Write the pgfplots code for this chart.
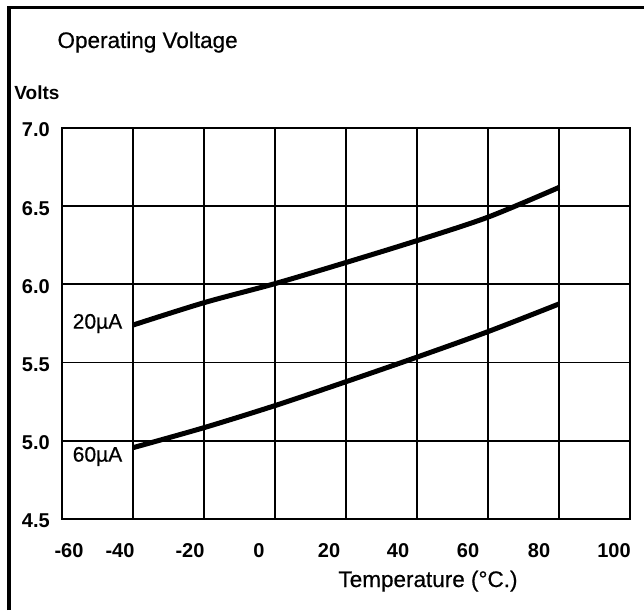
\documentclass[border=0pt]{standalone}
\usepackage{pgfplots}
\pgfplotsset{compat=1.18}
\usepackage{fontspec}
\setmainfont{Liberation Sans}
\newfontfamily\medfont{Liberation Sans}[FakeBold=0.6]

\begin{document}
\begin{tikzpicture}
  \useasboundingbox (0,0) rectangle (644pt,610pt);
  % outer frame (top and left only, as in the scan)
  \draw[line width=3.5pt] (7pt,602.5pt) -- (644pt,602.5pt);
  \draw[line width=4pt] (9pt,0pt) -- (9pt,604pt);

  \node[anchor=base west, font=\medfont\fontsize{22.5}{22.5}\selectfont] at (54pt,562pt) {Operating Voltage};
  \node[font=\bfseries\fontsize{19}{19}\selectfont] at (37pt,517pt) {Volts};
  \node[anchor=base, font=\medfont\fontsize{22.5}{22.5}\selectfont] at (428pt,23pt) {Temperature (\textdegree C.)};

  \begin{axis}[
    at={(62pt,91pt)}, anchor=south west,
    scale only axis,
    width=568pt, height=391pt,
    xmin=-60, xmax=100, ymin=4.5, ymax=7.0,
    xtick={-60,-40,...,100},
    ytick={4.5,5.0,...,7.0},
    xticklabels={\kern14pt -60, -40\kern26pt, -20\kern28pt, 0\kern32pt, 20\kern34pt,
                 40\kern38pt, 60\kern40pt, 80\kern40pt, 100\kern32pt},
    y tick label style={/pgf/number format/fixed, /pgf/number format/fixed zerofill,
                        /pgf/number format/precision=1},
    /pgf/number format/assume math mode=true,
    ticklabel style={font=\bfseries\fontsize{20}{20}\selectfont, inner sep=0pt},
    xticklabel style={anchor=north, yshift=-24pt},
    yticklabel style={anchor=east, xshift=-12pt, yshift=-2pt},
    major tick length=0pt,
    grid=major,
    grid style={black, line width=1.8pt},
    axis line style={line width=2pt},
  ]
  \addplot[black, line width=5pt, smooth]
    coordinates {(-40,5.74)(-20,5.883)(0,6.005)(20,6.14)(40,6.28)(60,6.43)(80,6.62)};
  \addplot[black, line width=5pt, smooth]
    coordinates {(-40,4.956)(-20,5.084)(0,5.225)(20,5.378)(40,5.535)(60,5.698)(80,5.875)};
  \node[font=\medfont\fontsize{21}{21}\selectfont, fill=white, inner sep=1pt] at (axis cs:-50,5.75) {20µA};
  \node[font=\medfont\fontsize{21}{21}\selectfont, fill=white, inner sep=1pt] at (axis cs:-50,4.90) {60µA};
  \end{axis}
\end{tikzpicture}
\end{document}
